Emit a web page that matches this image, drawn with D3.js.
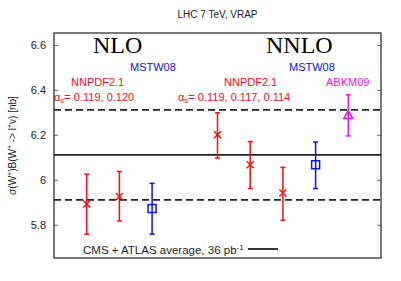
<!DOCTYPE html>
<html>
<head>
<meta charset="utf-8">
<script src="https://cdn.jsdelivr.net/npm/d3@7"></script>
<style>
  body { margin: 0; background: #fff; }
  text { font-family: "Liberation Sans", Arial, sans-serif; }
</style>
</head>
<body>
<div id="chart"></div>
<script>
// x slot, central value, error low, error high
const SLOTS = [1, 2, 3, 5, 6, 7, 8, 9];
const CENTRAL = [5.892, 5.926, 5.872, 6.200, 6.067, 5.941, 6.067, 6.288];
const ERR_LOW = [5.758, 5.817, 5.758, 6.097, 5.961, 5.820, 5.961, 6.195];
const ERR_HIGH = [6.025, 6.037, 5.984, 6.298, 6.170, 6.055, 6.168, 6.378];
const MARKERS = ["x", "x", "square", "x", "x", "x", "square", "triangle"];
const COLORS = ["#f01010", "#f01010", "#1010f0", "#f01010", "#f01010", "#f01010", "#1010f0", "#f010f0"];

const Y_TICKS = [5.8, 6.0, 6.2, 6.4, 6.6];
const AVERAGE = 6.111;
const BAND = [5.911, 6.311];

const width = 401, height = 281;
const margin = { top: 33, right: 20, bottom: 23, left: 54 };

const svg = d3.select("#chart").append("svg")
  .attr("width", width).attr("height", height);

const x = d3.scaleLinear().domain([0, 10]).range([margin.left, width - margin.right]);
const y = d3.scaleLinear().domain([5.652, 6.653]).range([height - margin.bottom, margin.top]);

// title
svg.append("text")
  .attr("x", (margin.left + width - margin.right) / 2).attr("y", 18)
  .attr("text-anchor", "middle").style("font-size", "10px").style("fill", "#222")
  .text("LHC 7 TeV, VRAP");

// y axis label
svg.append("text")
  .attr("transform", `translate(16,${(margin.top + height - margin.bottom) / 2}) rotate(-90)`)
  .attr("text-anchor", "middle").style("font-size", "10px").style("fill", "#222")
  .html('σ(W<tspan dy="-4" font-size="7px">+</tspan><tspan dy="4">)B(W</tspan><tspan dy="-4" font-size="7px">+</tspan><tspan dy="4"> -&gt; l</tspan><tspan dy="-4" font-size="7px">+</tspan><tspan dy="4">ν) [nb]</tspan>');

// ticks inward on left and right
const leftAxis = svg.append("g").attr("transform", `translate(${margin.left},0)`)
  .call(d3.axisLeft(y).tickValues(Y_TICKS).tickSize(-4).tickPadding(8)
    .tickFormat(d => d3.format("")(+d.toFixed(1))));
leftAxis.select(".domain").remove();
leftAxis.selectAll("line").attr("stroke", "#666");
leftAxis.selectAll("text").style("font-size", "11px").style("fill", "#222")
  .style("font-family", "Liberation Sans, Arial, sans-serif");

const rightAxis = svg.append("g").attr("transform", `translate(${width - margin.right},0)`)
  .call(d3.axisRight(y).tickValues(Y_TICKS).tickSize(-4).tickFormat(""));
rightAxis.select(".domain").remove();
rightAxis.selectAll("line").attr("stroke", "#666");

// reference lines
const x0 = x.range()[0], x1 = x.range()[1];
BAND.forEach(v => {
  svg.append("line").attr("x1", x0).attr("x2", x1).attr("y1", y(v)).attr("y2", y(v))
    .attr("stroke", "#222").attr("stroke-width", 1.8).attr("stroke-dasharray", "7,4");
});
svg.append("line").attr("x1", x0).attr("x2", x1).attr("y1", y(AVERAGE)).attr("y2", y(AVERAGE))
  .attr("stroke", "#222").attr("stroke-width", 1.8);

// frame
svg.append("rect").attr("x", x0).attr("y", margin.top)
  .attr("width", x1 - x0).attr("height", height - margin.bottom - margin.top)
  .attr("fill", "none").attr("stroke", "#222").attr("stroke-width", 1.2);

// points with error bars
const pts = SLOTS.map((s, i) => ({
  s, v: CENTRAL[i], lo: ERR_LOW[i], hi: ERR_HIGH[i], m: MARKERS[i], c: COLORS[i]
}));

const g = svg.append("g");
pts.forEach(d => {
  const cx = x(d.s), cy = y(d.v);
  g.append("line").attr("x1", cx).attr("x2", cx).attr("y1", y(d.lo)).attr("y2", y(d.hi))
    .attr("stroke", d.c).attr("stroke-width", 1.5);
  [d.lo, d.hi].forEach(e => {
    g.append("line").attr("x1", cx - 2.5).attr("x2", cx + 2.5).attr("y1", y(e)).attr("y2", y(e))
      .attr("stroke", d.c).attr("stroke-width", 1.5);
  });
  if (d.m === "x") {
    g.append("path").attr("d", `M${cx - 3.5},${cy - 3.5}L${cx + 3.5},${cy + 3.5}M${cx - 3.5},${cy + 3.5}L${cx + 3.5},${cy - 3.5}`)
      .attr("stroke", d.c).attr("stroke-width", 1.5).attr("fill", "none");
  } else if (d.m === "square") {
    g.append("rect").attr("x", cx - 4).attr("y", cy - 4).attr("width", 8).attr("height", 8)
      .attr("stroke", d.c).attr("stroke-width", 1.5).attr("fill", "none");
  } else {
    g.append("path").attr("d", `M${cx},${cy - 4.5}L${cx + 4.5},${cy + 3.5}L${cx - 4.5},${cy + 3.5}Z`)
      .attr("stroke", d.c).attr("stroke-width", 1.5).attr("fill", "none");
  }
});

// annotations
function label(tx, ty, txt, color, size, family) {
  return svg.append("text").attr("x", tx).attr("y", ty)
    .style("font-size", size).style("fill", color)
    .style("font-family", family || "Liberation Sans, Arial, sans-serif")
    .text(txt);
}
label(93, 53, "NLO", "#000", "24px", "Liberation Serif, Times New Roman, serif");
label(266, 53, "NNLO", "#000", "24px", "Liberation Serif, Times New Roman, serif");
label(130, 71, "MSTW08", "#1010f0", "11px");
label(289, 71, "MSTW08", "#1010f0", "11px");
label(71, 86, "NNPDF2.1", "#f01010", "11px");
label(224, 86, "NNPDF2.1", "#f01010", "11px");
label(326, 86, "ABKM09", "#f010f0", "11px");

function alphaLabel(tx, values) {
  svg.append("text").attr("x", tx).attr("y", 101)
    .style("font-size", "11px").style("fill", "#f01010")
    .html(`α<tspan dy="2" font-size="8px">s</tspan><tspan dy="-2">= ${values}</tspan>`);
}
alphaLabel(54, "0.119, 0.120");
alphaLabel(178, "0.119, 0.117, 0.114");

// legend
svg.append("text").attr("x", 83).attr("y", 254)
  .style("font-size", "11.5px").style("fill", "#222")
  .html('CMS + ATLAS average, 36 pb<tspan dy="-4" font-size="8px">-1</tspan>');
svg.append("line").attr("x1", 248).attr("x2", 278).attr("y1", 249).attr("y2", 249)
  .attr("stroke", "#222").attr("stroke-width", 1.8);
</script>
</body>
</html>
